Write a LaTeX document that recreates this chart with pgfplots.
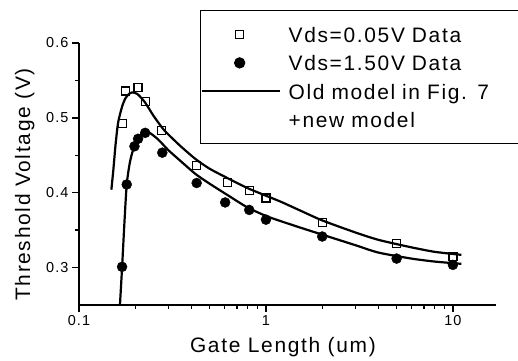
\documentclass[border=0pt]{standalone}
\usepackage{pgfplots}
\pgfplotsset{compat=1.18}
\usepackage{fontspec}
\setmainfont{Liberation Sans}[LetterSpace=8]
\pgfplotsset{
  markleg/.style={legend image code/.code={\path[draw=none,fill=none] (0bp,-4bp) rectangle (85bp,4bp);
    \draw[##1] plot coordinates {(38bp,0bp)};}},
  lineleg/.style={legend image code/.code={\path[draw=none,fill=none] (0bp,-4bp) rectangle (85bp,4bp);
    \draw[##1, sharp plot] (0bp,0bp) -- (78bp,0bp);}},
}
\begin{document}
\begin{tikzpicture}
\begin{axis}[
  name=ax,
  scale only axis, width=417bp, height=262bp,
  xmode=log, xmin=0.1, xmax=17, ymin=0.25, ymax=0.6,
  axis lines*=left,
  axis line style={line width=1.5bp},
  xtick={0.1,1,10}, xticklabels={0.1,1,10},
  minor xtick={0.2,0.3,0.4,0.5,0.6,0.7,0.8,0.9,2,3,4,5,6,7,8,9},
  ytick={0.3,0.4,0.5,0.6}, yticklabels={0.3,0.4,0.5,0.6},
  minor ytick={0.35,0.45,0.55},
  tick align=outside,
  major tick length=7bp, minor tick length=4bp,
  every tick/.style={line width=1.3bp, black},
  /pgf/number format/assume math mode=true,
  tick label style={font=\fontsize{14.5}{16}\selectfont},
  xlabel={Gate Length (um)}, ylabel={Threshold Voltage (V)},
  label style={font=\fontsize{21}{24}\selectfont},
  xlabel style={at={(axis description cs:0.489,-0.16)}, anchor=center},
  ylabel style={at={(axis description cs:-0.13,0.46)}, anchor=center},
  legend cell align=left,
  legend style={at={(axis description cs:0.290,1.126)}, anchor=north west,
    draw=black, line width=1.3bp, inner xsep=0pt, inner ysep=9.5bp, row sep=0pt,
    font=\fontsize{21}{24}\selectfont,
    nodes={inner xsep=2bp, inner ysep=0pt, text height=22bp, text depth=6.5bp, text width=250bp}},
]
\addplot[only marks, mark=square, mark size=4bp, line width=1.3bp, markleg]
  coordinates {
  (0.171,0.492) (0.177,0.536) (0.207,0.541) (0.227,0.522) (0.277,0.483)
  (0.426,0.4366) (0.624,0.4134) (0.814,0.403) (1.0,0.393) (2.0,0.360)
  (5.0,0.3326) (10,0.315)};
\addlegendentry{Vds=0.05V Data}
\addplot[only marks, mark=*, mark size=5bp, fill=black, draw=black, markleg]
  coordinates {
  (0.170,0.301) (0.180,0.411) (0.198,0.462) (0.207,0.472) (0.226,0.480)
  (0.279,0.4535) (0.426,0.413) (0.605,0.387) (0.814,0.377) (1.0,0.364)
  (2.0,0.3415) (5.0,0.312) (10,0.3036)};
\addlegendentry{Vds=1.50V Data}
\addplot[black, line width=2.2bp, smooth, tension=0.4, lineleg]
  coordinates {
  (0.149,0.404) (0.1526,0.430) (0.157,0.465) (0.162,0.494) (0.170,0.515)
  (0.177,0.526) (0.185,0.532) (0.192,0.534) (0.205,0.532) (0.225,0.521)
  (0.25,0.503) (0.28,0.486) (0.30,0.478) (0.35,0.462) (0.42,0.445)
  (0.5,0.432) (0.64,0.418) (0.8,0.406) (1.0,0.396) (1.2,0.388)
  (1.5,0.377) (2.0,0.363) (3.0,0.347) (4.0,0.337) (6.0,0.327)
  (8.0,0.321) (11.1,0.317)};
\addlegendentry{Old model in Fig. 7}
\addplot[black, line width=2.2bp, smooth, tension=0.4, forget plot]
  coordinates {
  (0.1656,0.25) (0.170,0.30) (0.175,0.36) (0.180,0.411) (0.187,0.440)
  (0.195,0.458) (0.205,0.472) (0.22,0.480) (0.235,0.481) (0.26,0.473)
  (0.28,0.465) (0.30,0.457) (0.347,0.443) (0.42,0.425) (0.5,0.412)
  (0.64,0.395) (0.8,0.380) (1.0,0.369) (1.2,0.362) (1.5,0.354)
  (2.0,0.344) (3.0,0.330) (4.0,0.320) (6.0,0.312) (8.0,0.308)
  (11.1,0.305)};
\addlegendimage{empty legend}
\addlegendentry{+new model}
\end{axis}
\pgfresetboundingbox
\path[use as bounding box] (ax.south west) ++(-79bp,-56bp) rectangle ++(518bp,361bp);
\end{tikzpicture}
\end{document}
